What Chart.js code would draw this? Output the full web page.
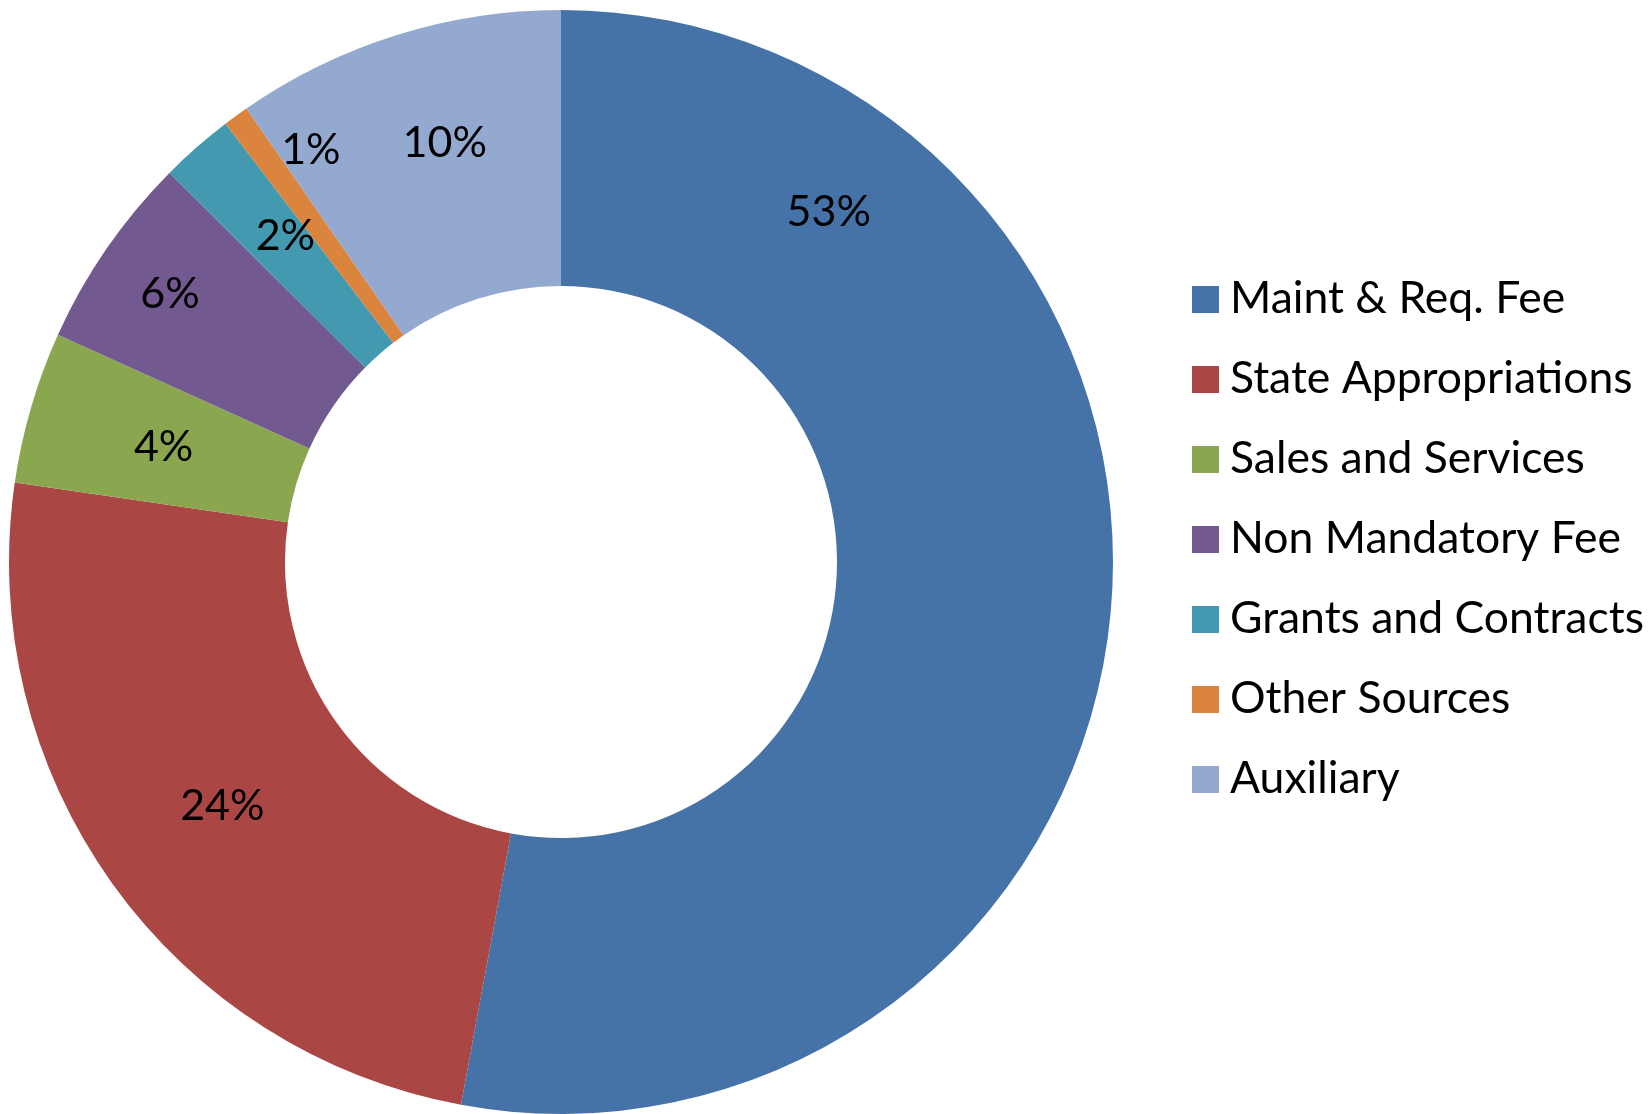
<!DOCTYPE html>
<html>
<head>
<meta charset="utf-8">
<title>Revenue sources</title>
<script src="https://cdn.jsdelivr.net/npm/chart.js@4/dist/chart.umd.min.js"></script>
<style>
html, body { margin: 0; padding: 0; background: #fff; }
canvas { display: block; }
</style>
</head>
<body>
<canvas id="revenue" width="1650" height="1114"></canvas>
<script>
var labels = ['Maint & Req. Fee', 'State Appropriations', 'Sales and Services', 'Non Mandatory Fee', 'Grants and Contracts', 'Other Sources', 'Auxiliary'];
var shares = [52.9, 24.4, 4.45, 5.7, 2.15, 0.75, 9.65];
var colors = ['#4673A7', '#AA4744', '#8AA74F', '#72598F', '#4399AF', '#DB843D', '#94A9CF'];

var LABEL_FONT = '43px Lato';
var LEGEND_FONT = '44.5px Lato';

// % label placement: shift from the slice mid angle (deg), fraction across the ring
var labelSpots = [[-57.9, 0.60], [0, 0.51], [0, 0.50], [0, 0.72], [1.2, 0.55], [4.9, 0.75], [1.9, 0.58]];

var pctLabels = {
    id: 'pctLabels',
    afterDatasetsDraw: function(chart) {
        var ctx = chart.ctx;
        var meta = chart.getDatasetMeta(0);
        var total = shares.reduce(function(a, b) { return a + b; }, 0);
        ctx.save();
        ctx.font = LABEL_FONT;
        ctx.fillStyle = '#000';
        ctx.textAlign = 'center';
        ctx.textBaseline = 'alphabetic';
        var capH = ctx.measureText('0').actualBoundingBoxAscent;
        meta.data.forEach(function(arc, i) {
            var p = arc.getProps(['x', 'y', 'startAngle', 'endAngle', 'innerRadius', 'outerRadius'], true);
            var spot = labelSpots[i];
            var a = (p.startAngle + p.endAngle) / 2 + spot[0] * Math.PI / 180;
            var r = p.innerRadius + spot[1] * (p.outerRadius - p.innerRadius);
            var x = p.x + r * Math.cos(a);
            var y = p.y + r * Math.sin(a);
            ctx.fillText(Math.round(shares[i] / total * 100) + '%', x, y + capH / 2);
        });
        ctx.restore();
    }
};

var sideLegend = {
    id: 'sideLegend',
    afterDraw: function(chart) {
        var ctx = chart.ctx;
        var ds = chart.data.datasets[0];
        ctx.save();
        ctx.font = LEGEND_FONT;
        ctx.textAlign = 'left';
        ctx.textBaseline = 'alphabetic';
        chart.data.labels.forEach(function(lbl, i) {
            var top = 286 + i * 80;
            ctx.fillStyle = ds.backgroundColor[i];
            ctx.fillRect(1192, top, 27, 27);
            ctx.fillStyle = '#000';
            ctx.fillText(lbl, 1230, top + 27);
        });
        ctx.restore();
    }
};

var ctx = document.getElementById('revenue').getContext('2d');

var chart = new Chart(ctx, {
    type: 'doughnut',
    data: {
        labels: labels,
        datasets: [{
            data: shares,
            backgroundColor: colors,
            borderWidth: 0
        }]
    },
    options: {
        responsive: false,
        animation: false,
        cutout: '50%',
        layout: {
            padding: { left: 9, right: 537, top: 10, bottom: 0 }
        },
        plugins: {
            legend: { display: false },
            tooltip: { enabled: false }
        }
    },
    plugins: [pctLabels, sideLegend]
});
</script>
</body>
</html>
